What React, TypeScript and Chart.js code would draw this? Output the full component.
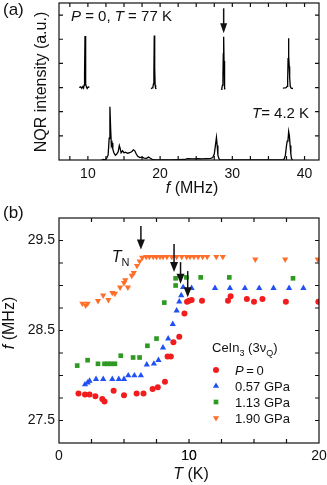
import React, { useEffect, useRef } from 'react';
import { Chart, registerables } from 'chart.js';
import { drawPoint } from 'chart.js/helpers';

Chart.register(...registerables);

const FONT = '"Liberation Sans", Arial, Helvetica, sans-serif';
const INK = '#111111';

// ---------- Panel (a): NQR spectra ----------
const spec77K_f = [
  8.8, 9.0, 9.15, 9.3, 9.4, 9.48, 9.54, 9.6, 9.66, 9.72, 9.8, 9.9, 10.05, 10.2, 10.5,
  18.75, 18.9, 19.0, 19.08, 19.14, 19.19, 19.25, 19.31, 19.38, 19.5, 23,
  28.45, 28.55, 28.64, 28.7, 28.75, 28.8, 28.85, 28.9, 28.95, 29.02, 33,
  37.0, 37.25, 37.45, 37.58, 37.66, 37.72, 37.77, 37.83, 37.88, 37.94, 38.02, 38.15, 38.4,
];
const spec77K_I = [
  3.0, 3.03, 2.97, 3.04, 2.98, 3.1, 3.6, 5.13, 3.9, 3.15, 3.02, 2.96, 3.03, 3.0, null,
  2.95, 2.99, 3.02, 3.15, 3.7, 5.15, 3.8, 3.1, 2.97, 2.95, null,
  2.93, 2.98, 3.1, 3.5, 4.4, 5.1, 4.1, 3.3, 2.96, 2.92, null,
  2.98, 2.99, 3.0, 3.05, 3.3, 4.2, 5.04, 4.3, 3.87, 3.4, 3.05, 2.97, 2.96,
];
const spec4K_f = [
  11.9, 12.2, 12.4, 12.6, 12.8, 12.95, 13.05, 13.15, 13.25, 13.35, 13.45, 13.6, 13.8, 14.0,
  14.2, 14.35, 14.45, 14.6, 14.8, 15.0, 15.2, 15.5, 15.8, 16.1, 16.3, 16.5, 16.7, 16.9, 17.2,
  17.5, 17.8, 18.1, 18.4, 18.6, 18.9, 19.2, 19.6, 20.5, 21.5, 22.5, 23.4, 23.8, 24.5, 25.2,
  25.8, 26.4, 27.0, 27.3, 27.5, 27.7, 27.8, 27.9, 28.0, 28.15, 28.3, 30, 33, 36, 37.0, 37.2,
  37.35, 37.5, 37.6, 37.7, 37.8, 37.9, 38.0, 38.1, 38.2, 38.35,
];
const spec4K_I = [
  0.0, 0.02, 0.0, 0.08, 0.2, 0.9, 2.2, 1.3, 0.6, 0.7, 0.45, 0.3, 0.2, 0.25,
  0.35, 0.6, 0.5, 0.3, 0.38, 0.3, 0.32, 0.28, 0.3, 0.35, 0.42, 0.38, 0.25, 0.15, 0.1,
  0.12, 0.08, 0.07, 0.12, 0.08, 0.03, 0.01, 0.0, 0.0, 0.0, 0.01, 0.02, 0.06, 0.05, 0.06,
  0.05, 0.06, 0.07, 0.1, 0.25, 0.7, 0.93, 0.6, 0.2, 0.05, 0.0, 0.0, 0.0, 0.0, 0.0, 0.05,
  0.2, 0.6, 0.78, 0.8, 1.18, 1.0, 0.6, 0.25, 0.05, 0.0,
];
const freqTicksA = [7.5, 10, 12.5, 15, 17.5, 20, 22.5, 25, 27.5, 30, 32.5, 35, 37.5, 40];
const freqLabelsA = [10, 20, 30, 40];
const intensityTicksA = [1, 2, 3, 4, 5, 6];
const arrowA = { f: 28.8, from: 6.28, to: 5.25 };

// ---------- Panel (b): f vs T ----------
const p0_T = [1.5, 2.0, 2.35, 2.8, 3.33, 3.5, 4.2, 5.0, 5.97, 6.5, 7.2, 7.6, 8.15, 8.35, 8.6, 8.8, 9.25, 9.65, 9.85, 10.0, 10.2, 11.0, 13.0, 13.2, 14.45, 15.0, 15.65, 17.45, 19.95];
const p0_f = [27.80, 27.79, 27.79, 27.77, 27.74, 27.71, 27.83, 27.78, 27.80, 27.80, 27.85, 27.87, 27.93, 28.21, 28.21, 28.37, 28.43, 28.69, 28.82, 28.83, 28.84, 28.83, 28.83, 28.88, 28.85, 28.82, 28.85, 28.82, 28.82];
const p057_T = [2.0, 2.2, 2.35, 2.85, 3.4, 4.1, 4.6, 5.0, 5.33, 5.8, 6.3, 6.75, 7.3, 7.65, 8.0, 8.4, 8.75, 9.05, 9.25, 9.4, 9.55, 10.2, 12.0, 13.15, 14.3, 15.4, 16.5, 17.7, 18.8];
const p057_f = [27.90, 27.92, 27.94, 27.96, 27.96, 27.96, 27.96, 27.96, 28.0, 28.0, 28.0, 28.12, 28.13, 28.17, 28.31, 28.41, 28.57, 28.72, 28.82, 28.89, 28.98, 28.97, 28.97, 28.97, 28.97, 28.97, 28.97, 28.97, 28.97];
const p113_T = [1.4, 2.2, 3.0, 3.5, 3.75, 4.0, 4.3, 4.75, 5.7, 6.2, 6.8, 7.5, 8.1, 8.97, 8.97, 9.8, 10.9, 13.1, 18.0];
const p113_f = [28.11, 28.17, 28.13, 28.13, 28.13, 28.13, 28.13, 28.22, 28.20, 28.20, 28.33, 28.41, 28.81, 29.00, 29.08, 29.09, 29.09, 29.09, 29.08];
const p190_T = [1.8, 2.05, 2.2, 3.0, 3.4, 3.8, 4.1, 4.3, 4.7, 5.0, 5.1, 5.3, 5.6, 5.75, 6.0, 6.2, 6.4, 6.7, 6.95, 7.25, 7.5, 7.77, 8.0, 8.3, 8.67, 9.05, 9.44, 9.82, 10.08, 10.38, 10.7, 11.05, 11.4, 12.1, 12.6, 15.1, 17.4, 19.9];
const p190_f = [28.80, 28.78, 28.80, 28.83, 28.89, 28.84, 28.92, 28.91, 28.98, 29.03, 29.06, 28.98, 29.11, 29.14, 29.22, 29.27, 29.31, 29.32, 29.32, 29.32, 29.32, 29.32, 29.32, 29.32, 29.32, 29.32, 29.32, 29.32, 29.32, 29.32, 29.32, 29.32, 29.32, 29.32, 29.32, 29.29, 29.29, 29.29];
const tempTicksB = [2.5, 5, 7.5, 10, 12.5, 15, 17.5];
const tempLabelsB = [0, 10, 20];
const freqTicksB = [27.5, 27.75, 28, 28.25, 28.5, 28.75, 29, 29.25, 29.5];
const freqLabelsB = [27.5, 28.5, 29.5];
const arrowsB_T = [6.3, 8.85, 9.35, 9.9];
const arrowsB_top = [29.66, 29.46, 29.26, 29.16];
const arrowsB_tip = [29.4, 29.15, 29.02, 28.87];

const seriesB = [
  { label: 'P = 0', T: p0_T, f: p0_f, color: '#f21c1c', style: 'circle', r: 3, rot: 0 },
  { label: '0.57 GPa', T: p057_T, f: p057_f, color: '#2150f5', style: 'triangle', r: 3.6, rot: 0 },
  { label: '1.13 GPa', T: p113_T, f: p113_f, color: '#2f9a22', style: 'rect', r: 3.3, rot: 0 },
  { label: '1.90 GPa', T: p190_T, f: p190_f, color: '#ff6e2a', style: 'triangle', r: 3.6, rot: 180 },
];

type Run = { t: string; font: string; dy?: number };

function drawRuns(ctx: CanvasRenderingContext2D, runs: Run[], x: number, y: number, align: 'left' | 'center') {
  let w = 0;
  for (const r of runs) { ctx.font = r.font; w += ctx.measureText(r.t).width; }
  let cx = align === 'center' ? x - w / 2 : x;
  ctx.textAlign = 'left';
  ctx.textBaseline = 'alphabetic';
  for (const r of runs) {
    ctx.font = r.font;
    ctx.fillText(r.t, cx, y + (r.dy || 0));
    cx += ctx.measureText(r.t).width;
  }
}

function f(size: number, italic = false) {
  return `${italic ? 'italic ' : ''}${size}px ${FONT}`;
}

function drawFrame(chart: any, len: number) {
  const { ctx, chartArea: a, scales } = chart;
  ctx.save();
  ctx.strokeStyle = INK;
  ctx.lineWidth = 1.2;
  ctx.strokeRect(a.left, a.top, a.right - a.left, a.bottom - a.top);
  ctx.beginPath();
  for (const t of scales.x.ticks) {
    const px = scales.x.getPixelForValue(t.value);
    if (px <= a.left + 1 || px >= a.right - 1) continue;
    ctx.moveTo(px, a.bottom); ctx.lineTo(px, a.bottom - len);
    ctx.moveTo(px, a.top); ctx.lineTo(px, a.top + len);
  }
  for (const t of scales.y.ticks) {
    const py = scales.y.getPixelForValue(t.value);
    if (py <= a.top + 1 || py >= a.bottom - 1) continue;
    ctx.moveTo(a.left, py); ctx.lineTo(a.left + len, py);
    ctx.moveTo(a.right, py); ctx.lineTo(a.right - len, py);
  }
  ctx.stroke();
  ctx.restore();
}

function drawArrow(ctx: CanvasRenderingContext2D, x: number, y0: number, y1: number, head: number, half: number) {
  ctx.save();
  ctx.strokeStyle = INK;
  ctx.fillStyle = INK;
  ctx.lineWidth = 1.5;
  ctx.beginPath();
  ctx.moveTo(x, y0);
  ctx.lineTo(x, y1 - head + 1);
  ctx.stroke();
  ctx.beginPath();
  ctx.moveTo(x - half, y1 - head);
  ctx.lineTo(x + half, y1 - head);
  ctx.lineTo(x, y1);
  ctx.closePath();
  ctx.fill();
  ctx.restore();
}

const panelAPlugin = {
  id: 'panelA',
  afterDraw(chart: any) {
    const { ctx, scales } = chart;
    drawFrame(chart, 4);
    drawArrow(ctx, scales.x.getPixelForValue(arrowA.f), scales.y.getPixelForValue(arrowA.from), scales.y.getPixelForValue(arrowA.to), 10, 3.5);
    ctx.save();
    ctx.fillStyle = INK;
    drawRuns(ctx, [{ t: '(a)', font: f(17) }], 3, 15, 'left');
    drawRuns(ctx, [
      { t: 'P', font: f(15, true) }, { t: ' = 0, ', font: f(15) },
      { t: 'T', font: f(15, true) }, { t: ' = 77 K', font: f(15) },
    ], 71, 21, 'left');
    drawRuns(ctx, [{ t: 'T', font: f(15, true) }, { t: '= 4.2 K', font: f(15) }], 252, 118, 'left');
    drawRuns(ctx, [{ t: 'f', font: f(16, true) }, { t: ' (MHz)', font: f(16) }], 192, 193, 'center');
    ctx.translate(46, 82);
    ctx.rotate(-Math.PI / 2);
    drawRuns(ctx, [{ t: 'NQR intensity (a.u.)', font: f(16) }], 0, 0, 'center');
    ctx.restore();
  },
};

const panelBPlugin = {
  id: 'panelB',
  afterDraw(chart: any) {
    const { ctx, scales } = chart;
    drawFrame(chart, 4);
    for (let i = 0; i < arrowsB_T.length; i++) {
      drawArrow(ctx, scales.x.getPixelForValue(arrowsB_T[i]), scales.y.getPixelForValue(arrowsB_top[i]), scales.y.getPixelForValue(arrowsB_tip[i]), 10, 4);
    }
    ctx.save();
    ctx.fillStyle = INK;
    drawRuns(ctx, [{ t: '(b)', font: f(17) }], 3, 18, 'left');
    drawRuns(ctx, [{ t: 'T', font: f(16, true) }, { t: ' (K)', font: f(16) }], 191, 279, 'center');
    // T_N label
    drawRuns(ctx, [{ t: 'T', font: f(16, true) }, { t: 'N', font: f(11), dy: 4 }],
      scales.x.getPixelForValue(4.05), scales.y.getPixelForValue(29.26), 'left');
    // legend
    drawRuns(ctx, [
      { t: 'CeIn', font: f(13) }, { t: '3', font: f(9), dy: 4 },
      { t: ' (3ν', font: f(13) }, { t: 'Q', font: f(9), dy: 4 }, { t: ')', font: f(13) },
    ], 212, 152, 'left');
    const rowY = [170, 186, 202, 218];
    seriesB.forEach((s, i) => {
      ctx.fillStyle = s.color;
      ctx.strokeStyle = s.color;
      drawPoint(ctx, { pointStyle: s.style as any, radius: s.r, rotation: s.rot, borderWidth: 0 } as any, 216, rowY[i]);
      ctx.fillStyle = INK;
      const runs: Run[] = i === 0
        ? [{ t: 'P', font: f(13, true) }, { t: '\u2009=\u20090', font: f(13) }]
        : [{ t: s.label, font: f(13) }];
      drawRuns(ctx, runs, 235, rowY[i] + 4.5, 'left');
    });
    ctx.translate(14, 123);
    ctx.rotate(-Math.PI / 2);
    drawRuns(ctx, [{ t: 'f', font: f(16, true) }, { t: ' (MHz)', font: f(16) }], 0, 0, 'center');
    ctx.restore();
  },
};

function configA(): any {
  const lineStyle = { borderColor: '#000', borderWidth: 1.3, pointRadius: 0, tension: 0, spanGaps: false, fill: false };
  return {
    type: 'line',
    data: {
      datasets: [
        { ...lineStyle, data: spec77K_f.map((x, i) => ({ x, y: spec77K_I[i] })) },
        { ...lineStyle, data: spec4K_f.map((x, i) => ({ x, y: spec4K_I[i] })) },
      ],
    },
    options: {
      animation: false,
      responsive: false,
      devicePixelRatio: 1,
      layout: { padding: { top: 3, right: 8, left: 0, bottom: 0 } },
      plugins: { legend: { display: false }, tooltip: { enabled: false } },
      scales: {
        x: {
          type: 'linear', min: 6, max: 42,
          grid: { display: false, drawTicks: false }, border: { display: false },
          afterBuildTicks: (s: any) => { s.ticks = freqTicksA.map((v) => ({ value: v })); },
          ticks: {
            autoSkip: false, maxRotation: 0, padding: 6, color: INK, font: { family: FONT, size: 14 },
            callback: (v: any) => (freqLabelsA.includes(Number(v)) ? String(v) : ''),
          },
          afterFit: (s: any) => { s.height = 40; s.paddingLeft = 0; s.paddingRight = 0; },
        },
        y: {
          type: 'linear', min: 0, max: 6.5,
          grid: { display: false, drawTicks: false }, border: { display: false },
          ticks: { display: false },
          afterBuildTicks: (s: any) => { s.ticks = intensityTicksA.map((v) => ({ value: v })); },
          afterFit: (s: any) => { s.width = 59; s.paddingTop = 0; s.paddingBottom = 0; },
        },
      },
    },
    plugins: [panelAPlugin],
  };
}

function configB(): any {
  return {
    type: 'scatter',
    data: {
      datasets: seriesB.map((s) => ({
        label: s.label,
        data: s.T.map((x, i) => ({ x, y: s.f[i] })),
        pointStyle: s.style,
        pointRadius: s.r,
        pointRotation: s.rot,
        pointBackgroundColor: s.color,
        backgroundColor: s.color,
        pointBorderColor: s.color,
        borderColor: s.color,
        pointBorderWidth: 0,
        borderWidth: 0,
      })),
    },
    options: {
      animation: false,
      responsive: false,
      devicePixelRatio: 1,
      layout: { padding: { top: 18, right: 8, left: 0, bottom: 0 } },
      plugins: { legend: { display: false }, tooltip: { enabled: false } },
      scales: {
        x: {
          type: 'linear', min: 0, max: 20,
          grid: { display: false, drawTicks: false }, border: { display: false },
          afterBuildTicks: (s: any) => { s.ticks = [...tempLabelsB, ...tempTicksB].sort((a, b) => a - b).map((v) => ({ value: v })); },
          ticks: {
            autoSkip: false, maxRotation: 0, padding: 5, color: INK, font: { family: FONT, size: 14 },
            callback: (v: any) => (tempLabelsB.includes(Number(v)) ? String(v) : ''),
          },
          afterFit: (s: any) => { s.height = 42; s.paddingLeft = 0; s.paddingRight = 0; },
        },
        y: {
          type: 'linear', min: 27.25, max: 29.75,
          grid: { display: false, drawTicks: false }, border: { display: false },
          afterBuildTicks: (s: any) => { s.ticks = freqTicksB.map((v) => ({ value: v })); },
          ticks: {
            autoSkip: false, padding: 4, color: INK, font: { family: FONT, size: 14 },
            callback: (v: any) => (freqLabelsB.includes(Number(v)) ? String(v) : ''),
          },
          afterFit: (s: any) => { s.width = 59; s.paddingTop = 0; s.paddingBottom = 0; },
        },
      },
    },
    plugins: [panelBPlugin],
  };
}

export default function App() {
  const refA = useRef<HTMLCanvasElement>(null);
  const refB = useRef<HTMLCanvasElement>(null);
  useEffect(() => {
    const a = new Chart(refA.current as HTMLCanvasElement, configA());
    const b = new Chart(refB.current as HTMLCanvasElement, configB());
    return () => { a.destroy(); b.destroy(); };
  }, []);
  return (
    <div style={{ position: 'absolute', left: 0, top: 0, width: 327, height: 485, background: '#fff' }}>
      <canvas ref={refA} width={327} height={200} style={{ position: 'absolute', left: 0, top: 0, width: 327, height: 200 }} />
      <canvas ref={refB} width={327} height={285} style={{ position: 'absolute', left: 0, top: 200, width: 327, height: 285 }} />
    </div>
  );
}
